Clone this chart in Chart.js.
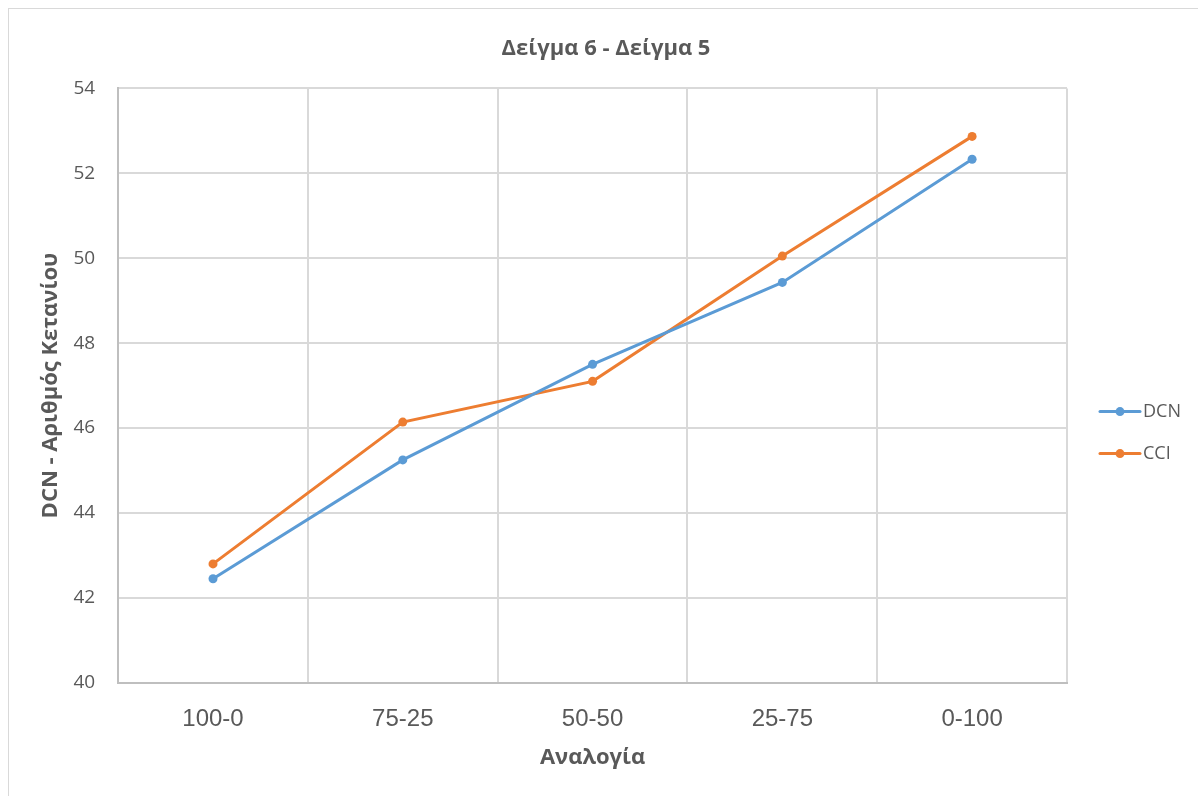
<!DOCTYPE html>
<html>
<head>
<meta charset="utf-8">
<script src="https://cdn.jsdelivr.net/npm/chart.js@4.4.1/dist/chart.umd.min.js"></script>
<style>
  html, body { margin: 0; padding: 0; background: #fff; }
  #wrap { position: relative; width: 1198px; height: 796px; overflow: hidden; }
  #frame { position: absolute; left: 8px; top: 8px; width: 1200px; height: 800px; border: 1px solid #d9d9d9; pointer-events: none; }
  canvas { position: absolute; left: 0; top: 0; }
</style>
</head>
<body>
<div id="wrap">
  <canvas id="chart" width="1198" height="796"></canvas>
  <div id="frame"></div>
</div>
<script>
// data
const categories = ['100-0', '75-25', '50-50', '25-75', '0-100'];
const dcnValues = [42.45, 45.25, 47.5, 49.43, 52.33];
const cciValues = [42.8, 46.14, 47.1, 50.05, 52.87];
const seriesNames = ['DCN', 'CCI'];
const yTicks = [40, 42, 44, 46, 48, 50, 52, 54];

const blue = '#5b9bd5';
const orange = '#ed7d31';
const grey = '#595959';
const gridColor = '#d9d9d9';
const axisColor = '#bfbfbf';
const font = '"Open Sans", "Noto Sans", sans-serif';
const arial = '"Liberation Sans", Arial, sans-serif';
const colors = [blue, orange];

// Excel-style legend on the right: short line with a dot, then the name
const sideLegend = {
  id: 'sideLegend',
  afterDraw(chart) {
    const { ctx, chartArea } = chart;
    const x0 = chartArea.right + 33;
    const mid = (chartArea.top + chartArea.bottom) / 2;
    ctx.save();
    ctx.font = '18px ' + font;
    ctx.textBaseline = 'middle';
    chart.data.datasets.forEach((d, i) => {
      const y = mid + 26 + i * 42;
      ctx.strokeStyle = d.borderColor;
      ctx.lineWidth = 3;
      ctx.lineCap = 'round';
      ctx.beginPath(); ctx.moveTo(x0, y); ctx.lineTo(x0 + 40, y); ctx.stroke();
      ctx.fillStyle = d.borderColor;
      ctx.beginPath(); ctx.arc(x0 + 20, y, 4.5, 0, Math.PI * 2); ctx.fill();
      ctx.fillStyle = grey;
      ctx.fillText(d.label, x0 + 43, y);
    });
    ctx.restore();
  }
};

new Chart(document.getElementById('chart'), {
  type: 'line',
  data: {
    labels: categories,
    datasets: [
      { label: seriesNames[0], data: dcnValues },
      { label: seriesNames[1], data: cciValues },
    ].map((d, i) => ({
      ...d,
      borderColor: colors[i],
      backgroundColor: colors[i],
      borderWidth: 3,
      pointRadius: 4.5,
      pointHoverRadius: 4.5,
      pointBorderWidth: 0,
      tension: 0,
      fill: false,
    }))
  },
  options: {
    responsive: false,
    animation: false,
    layout: { padding: { left: 14, right: 0, top: 36, bottom: 25 } },
    plugins: {
      title: {
        display: true,
        text: 'Δείγμα 6 - Δείγμα 5',
        color: grey,
        font: { family: font, size: 22, weight: 'bold' },
        padding: { top: 0, bottom: 26 }
      },
      legend: { display: false },
      tooltip: { enabled: false }
    },
    scales: {
      x: {
        offset: true,
        grid: { offset: true, color: gridColor, lineWidth: 2, drawTicks: false },
        border: { color: axisColor, width: 2 },
        ticks: { color: grey, font: { family: arial, size: 24 }, padding: 22 },
        title: {
          display: true, text: 'Αναλογία', color: grey,
          font: { family: font, size: 22, weight: 'bold' },
          padding: { top: -11, bottom: 0 }
        }
      },
      y: {
        min: yTicks[0],
        max: yTicks[yTicks.length - 1],
        afterBuildTicks: (axis) => { axis.ticks = yTicks.map(v => ({ value: v })); },
        grid: { color: gridColor, lineWidth: 2, drawTicks: false },
        border: { color: axisColor, width: 2 },
        ticks: { color: grey, font: { family: font, size: 19 }, padding: 23 },
        title: {
          display: true, text: 'DCN - Αριθμός Κετανίου', color: grey,
          font: { family: font, size: 22, weight: 'bold' },
          padding: { top: 24, bottom: -14 }
        }
      },
      // empty strip on the right that holds the legend
      legendSpace: {
        type: 'linear',
        position: 'right',
        grid: { display: false },
        border: { display: false },
        ticks: { display: false },
        afterFit: (s) => { s.width = 131; }
      }
    }
  },
  plugins: [sideLegend]
});
</script>
</body>
</html>
